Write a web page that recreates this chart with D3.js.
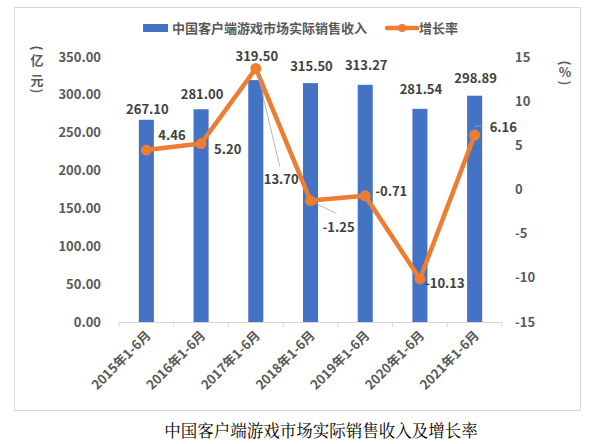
<!DOCTYPE html>
<html>
<head>
<meta charset="utf-8">
<script src="https://cdn.jsdelivr.net/npm/d3@7"></script>
<style>
  body { margin: 0; background: #fff; }
  text { font-family: "Noto Sans CJK SC", "Noto Sans", sans-serif; }
</style>
</head>
<body>
<svg id="chart"></svg>
<script>
const categories = ['2015年1-6月', '2016年1-6月', '2017年1-6月', '2018年1-6月', '2019年1-6月', '2020年1-6月', '2021年1-6月']
const revenue = [267.10, 281.00, 319.50, 315.50, 313.27, 281.54, 298.89]
const growth = [4.46, 5.20, 13.70, -1.25, -0.71, -10.13, 6.16]
const leftTicks = [0, 50, 100, 150, 200, 250, 300, 350]
const rightTicks = [-15, -10, -5, 0, 5, 10, 15]

// label placement (px), tuned by eye
const barLabelDy = [-10, -15, -24, -17, -19, -19, -17]
const lineLabelOff = [[12, -15], [13, 6], [8, 111], [12, 27], [10, -4], [5, 4], [15, -8]]
const leaders = [null, null, [[1, 2], [24, 98]], [[1, 1], [26, 13]], null, null, [[0, -9], [8, -9]]]

buildChart()

function buildChart() {
    const W = 594, H = 444
    const blue = '#4472C4', orange = '#ED7D31'
    const axisText = '#595959', labelText = '#404040'

    const svg = d3.select('#chart').attr('width', W).attr('height', H)

    svg.append('rect')
        .attr('x', 14.5).attr('y', 7.5)
        .attr('width', 566).attr('height', 403)
        .style('fill', '#fff').style('stroke', '#d9d9d9')

    const x = d3.scaleBand().domain(categories).range([119, 502]).paddingInner(0.725).paddingOuter(0.3625)
    const band = d3.scaleBand().domain(categories).range([119, 502])
    const yL = d3.scaleLinear().domain([0, 350]).range([322, 57])
    const yR = d3.scaleLinear().domain([-15, 15]).range([322, 57])

    // left axis
    svg.append('g').selectAll('text').data(leftTicks).join('text')
        .attr('x', 101).attr('y', d => yL(d)).attr('dy', '0.35em')
        .attr('text-anchor', 'end')
        .style('font-size', '13px').style('font-weight', 'bold').style('fill', axisText)
        .text(d => d.toFixed(2))

    // right axis
    svg.append('g').selectAll('text').data(rightTicks).join('text')
        .attr('x', 515).attr('y', d => yR(d)).attr('dy', '0.35em')
        .style('font-size', '13px').style('font-weight', 'bold').style('fill', axisText)
        .text(d => d)

    // axis titles, one glyph at a time; brackets turned on their side
    const leftTitle = [['(', 48, 90], ['亿', 60, 0], ['元', 80, 0], [')', 91, 90]]
    const rightTitle = [['(', 63, 90], ['%', 72, 0], [')', 83, 90]]
    const vTitle = (chars, cx) => svg.append('g').selectAll('text').data(chars).join('text')
        .attr('transform', d => `translate(${cx},${d[1]}) rotate(${d[2]})`)
        .attr('dy', '0.35em')
        .attr('text-anchor', 'middle')
        .style('font-size', '13px').style('font-weight', 'bold').style('fill', axisText)
        .text(d => d[0])
    vTitle(leftTitle, 37)
    vTitle(rightTitle, 565)

    // bars
    svg.append('g').selectAll('rect').data(revenue).join('rect')
        .attr('x', (d, i) => x(categories[i]))
        .attr('y', d => yL(d))
        .attr('width', x.bandwidth())
        .attr('height', d => yL(0) - yL(d))
        .style('fill', blue)

    // x axis
    const xa = svg.append('g')
    xa.append('line')
        .attr('x1', 119).attr('x2', 502).attr('y1', 322.5).attr('y2', 322.5)
        .style('stroke', '#d9d9d9')
    xa.selectAll('line.tick').data(d3.range(categories.length + 1)).join('line')
        .attr('class', 'tick')
        .attr('x1', i => 119 + i * band.bandwidth()).attr('x2', i => 119 + i * band.bandwidth())
        .attr('y1', 322).attr('y2', 327)
        .style('stroke', '#d9d9d9')
    xa.selectAll('text').data(categories).join('text')
        .attr('transform', d => `translate(${band(d) + band.bandwidth() / 2 + 2},${333}) rotate(-45)`)
        .attr('text-anchor', 'end').attr('dy', '0.35em')
        .style('font-size', '13px').style('font-weight', 'bold').style('fill', axisText)
        .text(d => d)

    // bar labels
    svg.append('g').selectAll('text').data(revenue).join('text')
        .attr('x', (d, i) => band(categories[i]) + band.bandwidth() / 2 + 1)
        .attr('y', (d, i) => yL(d) + barLabelDy[i]).attr('dy', '0.35em')
        .attr('text-anchor', 'middle')
        .style('font-size', '13px').style('font-weight', 'bold').style('fill', labelText)
        .text(d => d.toFixed(2))

    // growth line
    const px = i => band(categories[i]) + band.bandwidth() / 2
    const line = d3.line().x((d, i) => px(i)).y(d => yR(d))
    svg.append('path').datum(growth)
        .attr('d', line)
        .style('fill', 'none').style('stroke', orange)
        .style('stroke-width', 4.5).style('stroke-linejoin', 'round')

    // leader lines
    const withLeader = growth.map((d, i) => ({ v: d, i })).filter(d => leaders[d.i])
    svg.append('g').selectAll('polyline').data(withLeader).join('polyline')
        .attr('points', d => leaders[d.i].map(p => [px(d.i) + p[0], yR(d.v) + p[1]].join(',')).join(' '))
        .style('fill', 'none').style('stroke', '#a6a6a6').style('stroke-width', 0.8)

    svg.append('g').selectAll('circle').data(growth).join('circle')
        .attr('cx', (d, i) => px(i)).attr('cy', d => yR(d)).attr('r', 5.5)
        .style('fill', orange)

    svg.append('g').selectAll('text').data(growth).join('text')
        .attr('x', (d, i) => px(i) + lineLabelOff[i][0])
        .attr('y', (d, i) => yR(d) + lineLabelOff[i][1]).attr('dy', '0.35em')
        .style('font-size', '13px').style('font-weight', 'bold').style('fill', labelText)
        .text(d => d.toFixed(2))

    // legend
    const lg = svg.append('g')
    lg.append('rect').attr('x', 143).attr('y', 24).attr('width', 25).attr('height', 8).style('fill', blue)
    lg.append('text').attr('x', 172).attr('y', 28).attr('dy', '0.35em')
        .style('font-size', '13px').style('font-weight', 'bold').style('fill', axisText)
        .text('中国客户端游戏市场实际销售收入')
    lg.append('line').attr('x1', 387).attr('x2', 417).attr('y1', 28).attr('y2', 28)
        .style('stroke', orange).style('stroke-width', 4.5).style('stroke-linecap', 'round')
    lg.append('circle').attr('cx', 402).attr('cy', 28).attr('r', 4).style('fill', orange)
    lg.append('text').attr('x', 419).attr('y', 28).attr('dy', '0.35em')
        .style('font-size', '13px').style('font-weight', 'bold').style('fill', axisText)
        .text('增长率')

    // caption
    svg.append('text')
        .attr('x', 321).attr('y', 437)
        .attr('text-anchor', 'middle')
        .style('font-family', '"Noto Serif CJK SC", serif, "Noto Sans CJK SC"')
        .style('font-size', '16.5px').style('fill', '#000')
        .text('中国客户端游戏市场实际销售收入及增长率')
}
</script>
</body>
</html>
